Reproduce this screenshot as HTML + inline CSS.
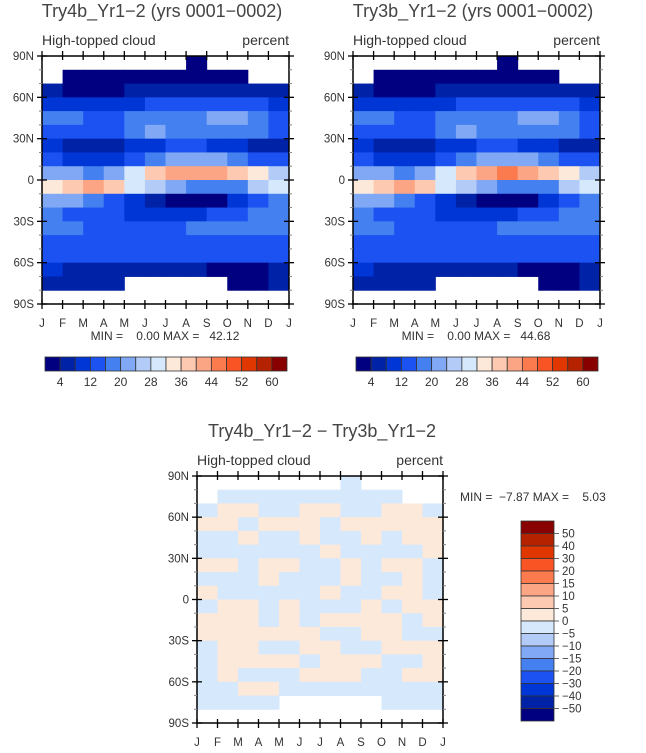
<!DOCTYPE html>
<html><head><meta charset="utf-8"><style>
html,body{margin:0;padding:0;background:#fff;}
svg{display:block;font-family:"Liberation Sans",sans-serif;}
</style></head><body>
<svg id="fig" width="646" height="753" viewBox="0 0 646 753" xmlns="http://www.w3.org/2000/svg"></svg>
<script>
const N=null;
const months=["J","F","M","A","M","J","J","A","S","O","N","D","J"];
const latLabels=["90N","60N","30N","0","30S","60S","90S"];
const topLevels=[4,12,20,28,36,44,52,60];
const diffLevels=[50,40,30,20,15,10,5,0,-5,-10,-15,-20,-30,-40,-50];
const topColors=["#000080","#0022a6","#0036d6","#1c52f2","#4580f0","#80a8f4","#b2cbf7","#d6e8fb","#fde9d9","#fdc9b0","#fca584","#fb7b4e","#f95524","#e03600","#b52200","#880000"];
const dataA=[
[N,N,N,N,N,N,N,2,N,N,N,N],
[N,2,2,2,2,2,2,2,2,3,N,N],
[6,2,2,3,5,7,7,6,5,6,7,7],
[9,9,8,9,11,13,12,12,13,13,12,10],
[17,17,14,14,18,18,16,16,20,22,18,15],
[15,14,12,14,18,20,18,16,17,18,16,14],
[8,6,5,6,9,11,12,12,10,8,6,4],
[12,10,9,10,14,18,22,22,22,18,14,12],
[22,20,18,20,28,36,40,42,42,38,32,26],
[32,36,40,38,30,24,20,16,16,18,24,30],
[20,20,18,14,9,4,2,2,3,8,14,18],
[16,15,14,12,11,10,9,10,12,14,16,16],
[16,16,15,14,14,15,15,16,16,17,16,16],
[13,12,12,12,14,15,15,14,14,14,14,13],
[14,14,12,12,13,14,14,12,12,13,14,14],
[8,7,6,7,7,7,7,6,3,3,3,5],
[5,5,4,5,N,N,N,N,N,3,3,4],
[N,N,N,N,N,N,N,N,N,N,N,N]];
const dataB=[
[N,N,N,N,N,N,N,2,N,N,N,N],
[N,2,2,2,2,2,2,2,2,3,N,N],
[6,2,2,3,5,7,7,6,5,6,7,7],
[9,9,8,9,11,13,12,12,13,13,12,10],
[17,17,14,14,18,18,16,17,20,22,18,15],
[15,14,12,14,18,20,18,16,17,18,16,14],
[8,6,5,6,9,11,12,12,10,8,6,4],
[12,10,9,10,14,18,22,23,22,18,14,12],
[22,20,18,20,28,36,41,44,43,38,32,26],
[32,36,40,39,30,24,20,16,16,18,24,30],
[20,20,18,14,9,4,2,2,3,8,14,18],
[16,15,14,12,11,10,9,10,12,14,16,16],
[16,16,15,14,14,15,15,16,16,17,16,16],
[13,12,12,12,14,15,15,14,14,14,14,13],
[14,14,12,12,13,14,14,12,12,13,14,14],
[8,7,6,7,7,7,7,6,3,3,3,5],
[5,5,4,5,N,N,N,N,N,3,3,4],
[N,N,N,N,N,N,N,N,N,N,N,N]];
const dataD=[
[N,N,N,N,N,N,N,-1,N,N,N,N],
[N,-1,-1,-1,-1,-1,-1,-1,-1,-1,N,N],
[-1,1,1,-1,-1,1,1,-1,-1,1,1,-1],
[1,1,-1,1,1,1,-1,1,1,1,1,1],
[-1,-1,1,-1,-1,1,-1,-1,1,-1,1,1],
[-1,-1,-1,-1,-1,-1,1,-1,-1,-1,-1,1],
[1,1,-1,1,1,-1,-1,1,-1,1,1,-1],
[-1,-1,-1,1,-1,-1,-1,1,-1,-1,1,-1],
[1,-1,-1,-1,-1,-1,1,-1,-1,1,1,-1],
[-1,1,1,-1,1,-1,-1,-1,1,-1,1,1],
[1,1,1,-1,1,-1,1,1,1,1,-1,1],
[1,1,1,1,1,1,-1,-1,1,1,-1,-1],
[-1,1,1,-1,-1,1,1,-1,-1,1,1,1],
[-1,1,1,1,1,-1,1,1,1,-1,-1,1],
[-1,1,-1,-1,-1,1,1,1,-1,-1,1,1],
[-1,-1,1,1,-1,-1,-1,-1,-1,-1,-1,-1],
[-1,-1,-1,-1,N,N,N,N,N,-1,-1,-1],
[N,N,N,N,N,N,N,N,N,N,N,N]];

const svg=document.getElementById('fig');
const NS="http://www.w3.org/2000/svg";
function el(tag,attrs,parent){const e=document.createElementNS(NS,tag);for(const k in attrs)e.setAttribute(k,attrs[k]);(parent||svg).appendChild(e);return e;}
function txt(x,y,s,size,anchor,parent){const t=el('text',{x:x,y:y,'font-size':size,'text-anchor':anchor||'middle',fill:'#333'},parent);t.textContent=s;return t;}
function topColor(v){let i=Math.floor(v/4);return topColors[Math.max(0,Math.min(15,i))];}
const diffBounds=[-50,-40,-30,-20,-15,-10,-5,0,5,10,15,20,30,40,50];
function diffColor(v){let i=0;while(i<diffBounds.length&&v>=diffBounds[i])i++;return topColors[i];}

function panel(name,x0,y0,w,h,data,cfn,title,tx){
  const g=el('g',{});
  
  
  const xs=m=>x0+m/12*w, ys=lat=>y0+(90-lat)/180*h;
  data.forEach((row,j)=>{row.forEach((v,i)=>{if(v===null)return;
    const r=el('rect',{x:xs(i),y:ys(90-10*j),width:xs(i+1)-xs(i)+0.5,height:ys(80-10*j)-ys(90-10*j)+0.5,fill:cfn(v)},g);
    
    
  });});
  el('rect',{x:x0,y:y0,width:w,height:h,fill:'none',stroke:'#000','stroke-width':1.5},g);
  latLabels.forEach((l,k)=>{const y=ys(90-30*k);
    el('line',{x1:x0-5,x2:x0+5,y1:y,y2:y,stroke:'#000','stroke-width':1.3},g);
    el('line',{x1:x0+w-5,x2:x0+w+5,y1:y,y2:y,stroke:'#000','stroke-width':1.3},g);
    const t=txt(x0-8,y+4,l,11.5,'end',g);
    });
  for(let lat=-80;lat<=80;lat+=10){if(lat%30===0)continue;const y=ys(lat);
    el('line',{x1:x0-3,x2:x0,y1:y,y2:y,stroke:'#888'},g);el('line',{x1:x0+w,x2:x0+w+3,y1:y,y2:y,stroke:'#888'},g);}
  months.forEach((m,i)=>{const x=xs(i);
    el('line',{x1:x,x2:x,y1:y0+h-4,y2:y0+h+5,stroke:'#000','stroke-width':1.3},g);
    el('line',{x1:x,x2:x,y1:y0-5,y2:y0+4,stroke:'#000','stroke-width':1.3},g);
    const t=txt(x,y0+h+23,m,11.5,'middle',g);
    });
  const t1=txt(tx,y0-39,title,18,'middle',g);t1.setAttribute('fill','#444');
  const t2=txt(x0,y0-11,'High-topped cloud',14,'start',g);
  const t3=txt(x0+w,y0-11,'percent',14,'end',g);
}
panel('panel-try4b',42,56,247,248,dataA,topColor,'Try4b_Yr1\u22122 (yrs 0001\u22120002)',162);
panel('panel-try3b',353,56,247,248,dataB,topColor,'Try3b_Yr1\u22122 (yrs 0001\u22120002)',473);
panel('panel-diff',197,476,246,247,dataD,diffColor,'Try4b_Yr1\u22122 \u2212 Try3b_Yr1\u22122',322);

const mm1=txt(165,340,'MIN =    0.00 MAX =   42.12',12,'middle');mm1.style.whiteSpace='pre';
const mm2=txt(476,340,'MIN =    0.00 MAX =   44.68',12,'middle');mm2.style.whiteSpace='pre';
const mm3=txt(460,501,'MIN =  \u22127.87 MAX =    5.03',12,'start');mm3.style.whiteSpace='pre';

function hbar(name,x0,y0,w,h){const g=el('g',{});
  
  const bw=w/16;
  topColors.forEach((c,i)=>el('rect',{x:x0+i*bw,y:y0,width:bw,height:h,fill:c,stroke:'#333','stroke-width':0.8},g));
  topLevels.forEach((l,k)=>{const t=txt(x0+(2*k+1)*bw,y0+h+15,String(l),12,'middle',g);});}
hbar('colorbar-left',45,357,242,14);
hbar('colorbar-right',356,357,242,14);
(function(){const g=el('g',{});
  
  const x0=521,y0=521,w=33,h=200,bh=h/16;
  topColors.slice().reverse().forEach((c,i)=>el('rect',{x:x0,y:y0+i*bh,width:w,height:bh,fill:c,stroke:'#333','stroke-width':0.8},g));
  diffLevels.forEach((l,k)=>{const y=y0+(k+1)*bh;
    el('line',{x1:x0+w,x2:x0+w+5,y1:y,y2:y,stroke:'#666'},g);
    const t=txt(x0+w+8,y+4,String(l).replace('-','\u2212'),11.5,'start',g);});
})();
</script>
</body></html>
